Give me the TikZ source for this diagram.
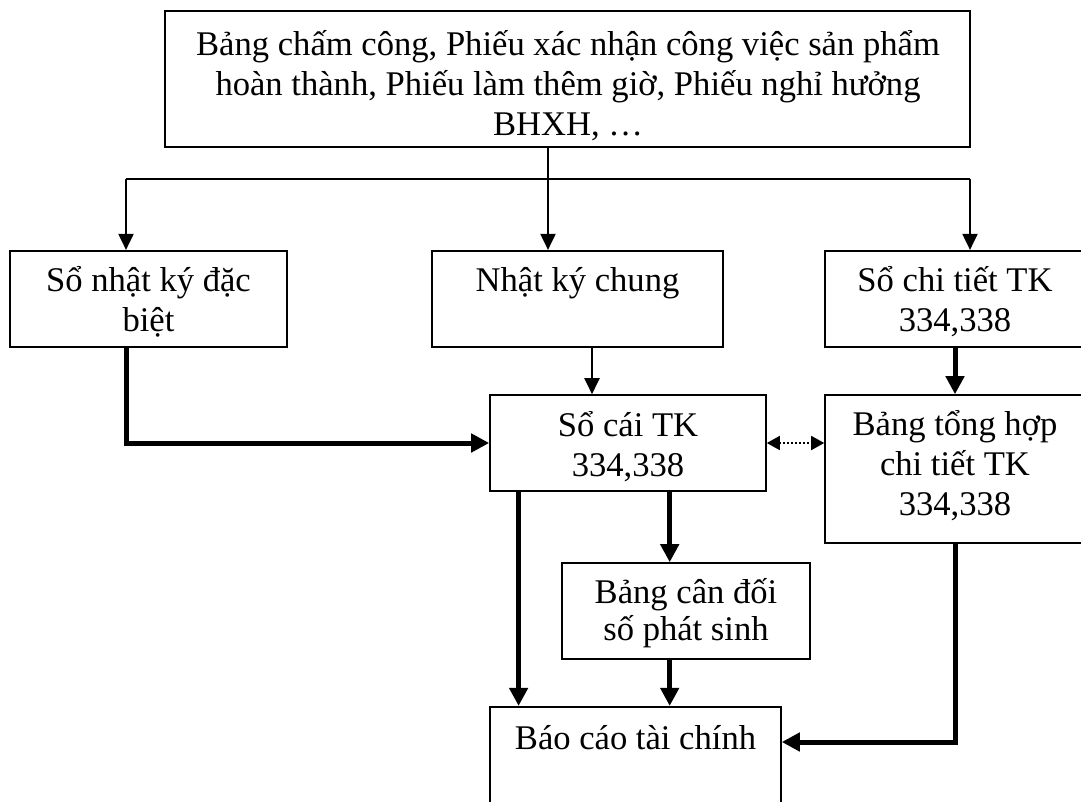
\documentclass[tikz,border=0pt]{standalone}
\usepackage{fontspec}
\setmainfont{Liberation Serif}
\usetikzlibrary{arrows.meta}
\begin{document}
\begin{tikzpicture}[x=1pt,y=-1pt,
  box/.style={draw, line width=1.6pt, inner sep=0pt},
  txt/.style={align=center, inner sep=0pt, font=\fontsize{34.6}{40}\selectfont},
  thinline/.style={line width=1.3pt},
  midline/.style={line width=2.2pt},
  thinarrow/.style={line width=2pt, -{Triangle[length=16pt,width=15pt]}},
  boldarrow/.style={line width=5pt, -{Triangle[length=18pt,width=18pt]}},
  dotarrow/.style={line width=1.6pt, dash pattern=on 1.8pt off 2.2pt,
     {Triangle[length=13pt,width=14pt]}-{Triangle[length=13pt,width=14pt]}}]
  \useasboundingbox (0,0) rectangle (1081,801);
  \fill[white] (0,0) rectangle (1081,801);
  \clip (0,0) rectangle (1081,801);

  % boxes
  \node[box, minimum width=805pt, minimum height=136pt] (src) at (567.5,78.7) {};
  \node[box, minimum width=277pt, minimum height=96pt] (snk) at (148.5,298.7) {};
  \node[box, minimum width=291pt, minimum height=96pt] (nkc) at (577.5,298.7) {};
  \node[box, minimum width=260pt, minimum height=96pt] (sct) at (955,298.7) {};
  \node[box, minimum width=276pt, minimum height=96pt] (sc) at (628,443) {};
  \node[box, minimum width=260pt, minimum height=148pt] (bth) at (955,469) {};
  \node[box, minimum width=248pt, minimum height=96pt] (bcd) at (686,611) {};
  \node[box, minimum width=291pt, minimum height=124pt] (bc) at (635.5,768.7) {};

  % labels
  \node[txt] (srcT) at (568,85.6) {Bảng chấm công, Phiếu xác nhận công việc sản phẩm\\hoàn thành, Phiếu làm thêm giờ, Phiếu nghỉ hưởng\\BHXH, …};
  \node[txt] (snkT) at (148.5,301.7) {Sổ nhật ký đặc\\biệt};
  \node[txt] (nkcT) at (577.5,283) {Nhật ký chung};
  \node[txt] (sctT) at (955,302) {Sổ chi tiết TK\\334,338};
  \node[txt] (scT) at (628,446.7) {Sổ cái TK\\334,338};
  \node[txt] (bthT) at (955,466) {Bảng tổng hợp\\chi tiết TK\\334,338};
  \node[txt, font=\fontsize{34.6}{37}\selectfont] (bcdT) at (686,613) {Bảng cân đối\\số phát sinh};
  \node[txt] (bcT) at (635.5,738) {Báo cáo tài chính};

  % distribution from the source documents
  \coordinate (split) at (548,179);
  \coordinate (bl) at (126,179);
  \coordinate (br) at (970,179);
  \draw[thinline] (src.south -| split) -- (split);
  \draw[midline] (bl) -- (br);
  \draw[thinarrow] (bl) -- (bl |- snk.north);
  \draw[thinarrow] (split) -- (split |- nkc.north);
  \draw[thinarrow] (br) -- (br |- sct.north);

  % posting to the ledger
  \coordinate (nkcx) at (592,0);
  \draw[thinarrow] (nkc.south -| nkcx) -- (sc.north -| nkcx);
  \draw[boldarrow] (snk.south -| bl) |- (sc.west);
  \draw[boldarrow] (sct.south) -- (bth.north);
  \draw[dotarrow] (sc.east) -- (sc.east -| bth.west);

  % towards the financial statements
  \coordinate (scl) at (518.6,0);
  \coordinate (scr) at (669.7,0);
  \coordinate (bthin) at (0,742);
  \draw[boldarrow] (sc.south -| scl) -- (bc.north -| scl);
  \draw[boldarrow] (sc.south -| scr) -- (bcd.north -| scr);
  \draw[boldarrow] (bcd.south -| scr) -- (bc.north -| scr);
  \draw[boldarrow] (bth.south) |- (bc.east |- bthin);
\end{tikzpicture}
\end{document}
